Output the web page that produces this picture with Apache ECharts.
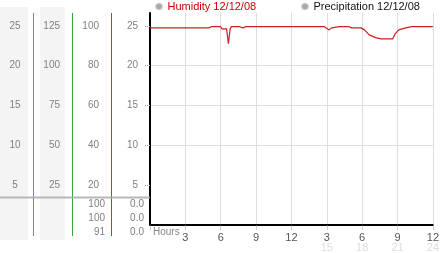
<!DOCTYPE html>
<html><head><meta charset="utf-8">
<script src="https://cdn.jsdelivr.net/npm/echarts@6/dist/echarts.min.js"></script>
<style>html,body{margin:0;padding:0;background:#fff}#c{width:442px;height:253px}</style>
</head><body><div id="c"></div>
<script>
// ---- data ----
const humHours = [0, 5.0, 5.2, 6.0, 6.1, 6.5, 6.65, 6.8, 6.9, 7.3, 7.4, 7.6, 7.9, 8.1, 10.7, 10.8, 10.9, 14.8, 15.2, 15.4, 16.1, 16.9, 17.1, 17.9, 18.2, 18.6, 19.2, 19.6, 20.6, 20.8, 21.1, 21.7, 22.2, 24];
const humidity = [99, 99, 99.6, 99.6, 98.5, 98.5, 91, 98.5, 99.6, 99.6, 99, 99.6, 99, 99.6, 99.6, 99, 99.6, 99.6, 98, 99, 99.6, 99.6, 99, 99, 98, 95.5, 94, 93.5, 93.5, 96, 98, 99, 99.6, 99.6];
const precHours = [0,1,2,3,4,5,6,7,8,9,10,11,12,13,14,15,16,17,18,19,20,21,22,23,24];
const precipitation = [0,0,0,0,0,0,0,0,0,0,0,0,0,0,0,0,0,0,0,0,0,0,0,0,0];
const seriesNames = ['Humidity 12/12/08', 'Precipitation 12/12/08'];
const xTicks = [3,6,9,12,15,18,21,24];
const axisA = [5,10,15,20,25];       // far-left column
const axisB = [25,50,75,100,125];    // second column
const axisH = [20,40,60,80,100];     // humidity column
const axisP = [5,10,15,20,25];       // column next to plot
const humStats = ['100','100','91'];
const precStats = ['0.0','0.0','0.0'];

const FONT = 'Liberation Sans';
const BLUE = '#2ba3d4', GREEN = '#35a83c', RED = '#cc3338';
const chart = echarts.init(document.getElementById('c'), null, {renderer:'canvas'});
const GL = 150, GT = 13, GB = 27, GR = 4;
const H = 253;
const plotBottom = H - GB;

function yAx(offset, max, ticks, labelOpts) {
  return {
    type:'value', position:'left', offset: offset, min:0, max:max,
    interval: ticks[1]-ticks[0],
    axisLine:{show:false},
    axisTick:{show:false},
    splitLine:{show:false},
    axisLabel:Object.assign({show:true, color:'#808080', fontFamily:FONT, fontSize:10, margin:12,
      formatter: v => ticks.indexOf(v) >= 0 ? String(v) : ''}, labelOpts || {})
  };
}

const pMax = (plotBottom - GT) / 8; // 8px per unit on the plot axis

const rowsY = [204, 218, 232];
const graphics = [
  {type:'rect', shape:{x:0,y:7,width:28,height:233}, style:{fill:'#f4f4f4'}, z:-10},
  {type:'rect', shape:{x:40,y:7,width:25,height:233}, style:{fill:'#f4f4f4'}, z:-10},
  {type:'rect', shape:{x:33,y:GT,width:1,height:236-GT}, style:{fill:BLUE}, z:40},
  {type:'rect', shape:{x:72,y:GT,width:1,height:236-GT}, style:{fill:GREEN}, z:40},
  {type:'rect', shape:{x:111,y:GT,width:1,height:236-GT}, style:{fill:RED}, z:40},
  {type:'line', shape:{x1:0,y1:197.5,x2:150,y2:197.5}, style:{stroke:'#aaaaaa',lineWidth:2, opacity:0.85}, z:50},
  {type:'text', left:153, top:227, style:{text:'Hours', fill:'#888', font:'10px ' + FONT}}
];
humStats.forEach((t,i)=>graphics.push({type:'text', x:105, y:rowsY[i], style:{text:t, fill:'#808080', font:'10px '+FONT, textAlign:'right', textVerticalAlign:'middle'}}));
precStats.forEach((t,i)=>graphics.push({type:'text', x:144, y:rowsY[i], style:{text:t, fill:'#808080', font:'10px '+FONT, textAlign:'right', textVerticalAlign:'middle'}}));

const option = {
  animation:false,
  backgroundColor:'#fff',
  grid:{left:GL, top:GT, right:GR, bottom:GB, containLabel:false},
  legend:[
    {left:155, top:1, itemWidth:7, itemHeight:7, icon:'circle', padding:0,
     textStyle:{fontFamily:FONT, fontSize:11},
     data:[{name:seriesNames[0], itemStyle:{color:'#aaaaaa', borderColor:'#dddddd', borderWidth:1}, textStyle:{color:'#cc0000'}}]},
    {left:301, top:1, itemWidth:7, itemHeight:7, icon:'circle', padding:0,
     textStyle:{fontFamily:FONT, fontSize:11},
     data:[{name:seriesNames[1], itemStyle:{color:'#aaaaaa', borderColor:'#dddddd', borderWidth:1}, textStyle:{color:'#111111'}}]}
  ],
  xAxis:{
    type:'value', min:0, max:24, interval:3,
    axisLine:{show:true, onZero:false, lineStyle:{color:'#000', width:2}},
    axisTick:{show:true, length:6, lineStyle:{color:'#999', width:1, type:[1,1]}},
    splitLine:{show:true, lineStyle:{color:'#dddddd', width:1}},
    axisLabel:{margin:8, fontFamily:FONT, fontSize:11, color:'#555',
      formatter: v => {
        if (xTicks.indexOf(v) < 0) return '';
        if (v > 12) return '{a|' + (v-12) + '}\n{b|' + v + '}';
        return '{a|' + v + '}';
      },
      rich:{a:{color:'#555', fontFamily:FONT, fontSize:11, lineHeight:10},
            b:{color:'#dddddd', fontFamily:FONT, fontSize:11, lineHeight:10}}}
  },
  yAxis:[
    {
      type:'value', position:'left', offset:0, min:0, max:pMax, interval:5,
      axisLine:{show:true, onZero:false, lineStyle:{color:'#000', width:2}},
      axisTick:{show:true, length:5, lineStyle:{color:'#999', type:[1,1]}, customValues:axisP},
      axisLabel:{show:true, color:'#808080', fontFamily:FONT, fontSize:10, margin:12, customValues:axisP},
      splitLine:{show:true, showMinLine:false, showMaxLine:false, lineStyle:{color:'#dddddd'}}
    },
    yAx(39, pMax*4, axisH),
    yAx(78, pMax*5, axisB),
    yAx(117, pMax, axisA, {margin:18, align:'center'})
  ],
  series:[
    {name:seriesNames[0], type:'line', yAxisIndex:1, symbol:'none', z:5,
     lineStyle:{color:'#cc1f1f', width:1.2}, itemStyle:{color:'#cc1f1f'},
     data: humHours.map((h,i)=>[h, humidity[i]])},
    {name:seriesNames[1], type:'line', yAxisIndex:0, symbol:'none', z:1,
     lineStyle:{color:'#000', width:1}, itemStyle:{color:'#000'},
     data: precHours.map((h,i)=>[h, precipitation[i]])}
  ],
  graphic: graphics
};
chart.setOption(option);
</script></body></html>
